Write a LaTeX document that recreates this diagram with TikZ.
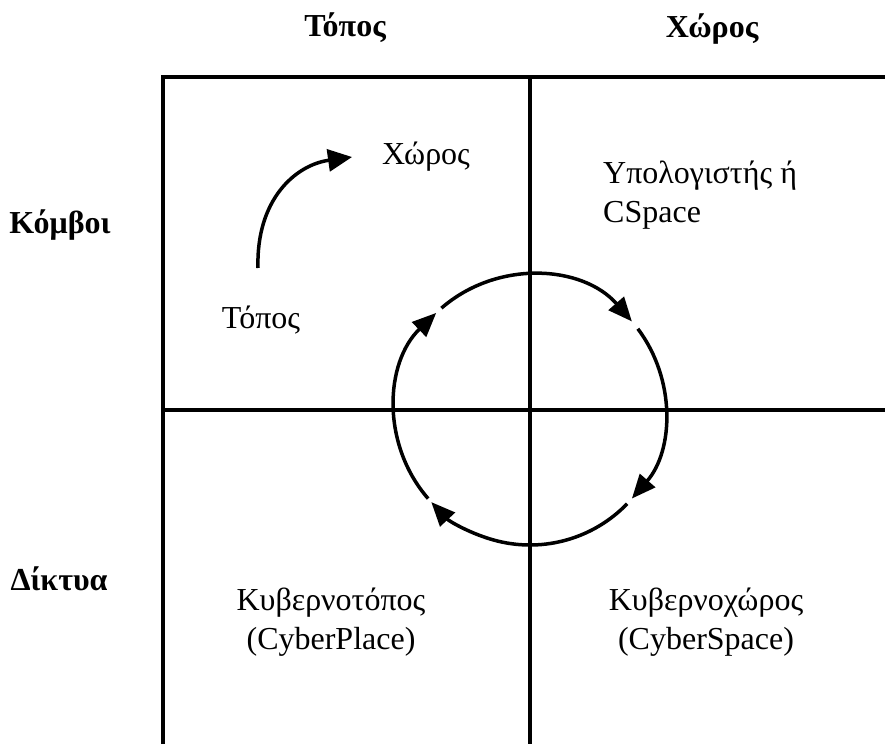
\documentclass[tikz,border=0pt]{standalone}
\usepackage{fontspec}
\setmainfont{Liberation Serif}
\usetikzlibrary{arrows.meta}
\begin{document}
\begin{tikzpicture}[x=1pt,y=-1pt,
  frame/.style={line width=4pt},
  thinframe/.style={line width=3.2pt},
  cyc/.style={line width=3.5pt,-{Triangle[length=24pt,width=20pt]}},
  head/.style={font=\fontsize{32}{39}\selectfont\bfseries,anchor=base,inner sep=0pt},
  lbl/.style={font=\fontsize{32}{39}\selectfont,anchor=base,inner sep=0pt},
  lbl2/.style={font=\fontsize{32}{39}\selectfont,align=center,anchor=base,inner sep=0pt},
]
\useasboundingbox (0,0) rectangle (885,744);
% grid of the four quadrants
\coordinate (tl) at (163,77);
\coordinate (tm) at (530,77);
\coordinate (tr) at (885,77);
\coordinate (ml) at (163,410);
\coordinate (c)  at (530,410);
\coordinate (mr) at (885,410);
\coordinate (bl) at (163,744);
\coordinate (bm) at (530,744);
\draw[frame] (bl) -- (tl) -- (tm);
\draw[thinframe] (tm) -- (tr);
\draw[frame] (tm) -- (bm);
\draw[frame] (ml) -- (mr);
% headings
\node[head] (hTopos) at (345,36) {Τόπος};
\node[head] (hChoros) at (712,37) {Χώρος};
\node[head] (hKomvoi) at (60,233) {Κόμβοι};
\node[head] (hDiktya) at (59,590) {Δίκτυα};
% quadrant labels (base anchor of a two-line node is its last line)
\node[lbl] (choros) at (426,164) {Χώρος};
\node[lbl] (topos) at (261,328) {Τόπος};
\node[lbl,align=left,anchor=base west] (cspace) at (603,222) {Υπολογιστής ή\\CSpace};
\node[lbl2] (cplace) at (331,649) {Κυβερνοτόπος\\(CyberPlace)};
\node[lbl2] (cyspace) at (706,649) {Κυβερνοχώρος\\(CyberSpace)};
% small arrow from place to space
\coordinate (a0) at (258,268);
\coordinate (a1) at (352,157);
\draw[line width=3.5pt,-{Triangle[length=24pt,width=22pt]}] (a0) .. controls (256,200) and (295,165) .. (a1);
% cycle of four arcs, running clockwise
\draw[cyc] (c) ++(-131:135) arc[start angle=-131,end angle=-41,radius=135];
\draw[cyc] (c) ++(-37:135) arc[start angle=-37,end angle=41,radius=135];
\draw[cyc] (c) ++(44:135) arc[start angle=44,end angle=137,radius=135];
\draw[cyc] (c) ++(139:135) arc[start angle=139,end angle=226,radius=135];
\end{tikzpicture}
\end{document}
